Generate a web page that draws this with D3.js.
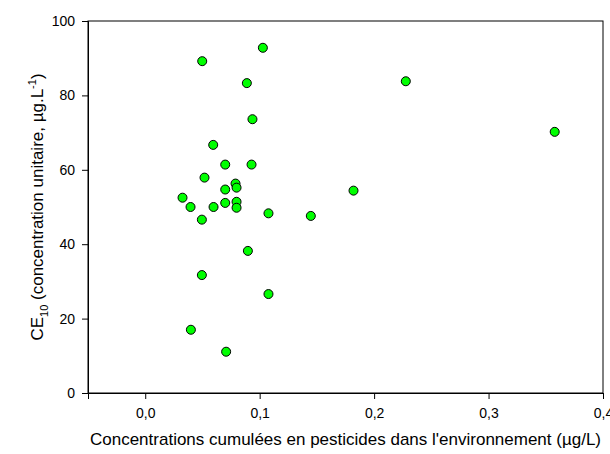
<!DOCTYPE html>
<html>
<head>
    <meta charset='utf-8'>
    <title>CE10 vs concentrations cumulées</title>
    <script src="https://cdn.jsdelivr.net/npm/d3@7"></script>
    <style>
        body { margin: 0; background: #fff; }
        svg text { font-family: "Liberation Sans", Arial, sans-serif; fill: #000; }
    </style>
</head>
<body>
    <svg id="chart" width="610" height="454"></svg>

    <script>
        // concentrations cumulées (µg/L)
        const xValues = [0.0498, 0.0888, 0.0937, 0.0594, 0.1028, 0.2277, 0.3578,
                         0.0699, 0.0929, 0.0518, 0.0789, 0.0798, 0.0699, 0.0326,
                         0.0396, 0.0597, 0.0699, 0.0798, 0.0798, 0.0495, 0.1077,
                         0.0897, 0.0495, 0.1077, 0.1447, 0.1820, 0.0399, 0.0707];
        // CE10 (µg.L-1)
        const yValues = [89.2, 83.3, 73.6, 66.7, 92.8, 83.8, 70.2,
                         61.4, 61.4, 57.9, 56.3, 55.2, 54.7, 52.5,
                         50.0, 50.0, 51.1, 51.4, 49.8, 46.6, 48.3,
                         38.2, 31.7, 26.6, 47.6, 54.4, 17.0, 11.1];
        const xTicks = [0, 0.1, 0.2, 0.3, 0.4];
        const yTicks = [0, 20, 40, 60, 80, 100];

        const points = xValues.map((x, i) => ({ x: x, y: yValues[i] }));

        const margin = { left: 88, top: 21, right: 7, bottom: 61 };
        const width = 610 - margin.left - margin.right;
        const height = 454 - margin.top - margin.bottom;

        const svg = d3.select('#chart');
        const g = svg.append('g')
            .attr('transform', `translate(${margin.left},${margin.top})`);

        const x = d3.scaleLinear().domain([-0.05, 0.4]).range([0, width]);
        const y = d3.scaleLinear().domain([0, 100]).range([height, 0]);

        const fmt = d => d3.format('.1f')(d).replace('.', ',');

        // frame
        g.append('rect')
            .attr('width', width)
            .attr('height', height)
            .attr('fill', 'none')
            .attr('stroke', '#000')
            .attr('stroke-width', 1);

        const xAxis = g.append('g')
            .attr('transform', `translate(0,${height})`)
            .call(d3.axisBottom(x).tickValues(xTicks).tickFormat(fmt).tickSize(6).tickPadding(9));

        const yAxis = g.append('g')
            .call(d3.axisLeft(y).tickValues(yTicks).tickSize(6).tickPadding(7));

        [xAxis, yAxis].forEach(a => {
            a.select('.domain').attr('stroke', '#000');
            a.selectAll('.tick line').attr('stroke', '#000');
            a.selectAll('.tick text')
                .style('font-family', '"Liberation Sans", Arial, sans-serif')
                .style('font-size', '14px');
        });

        g.selectAll('.dot')
            .data(points)
            .enter()
            .append('circle')
            .attr('class', 'dot')
            .attr('cx', d => x(d.x))
            .attr('cy', d => y(d.y))
            .attr('r', 4.5)
            .attr('fill', '#00ff00')
            .attr('stroke', '#000')
            .attr('stroke-width', 1);

        // axis titles
        svg.append('text')
            .attr('x', margin.left + width / 2)
            .attr('y', 445)
            .attr('text-anchor', 'middle')
            .style('font-size', '17px')
            .text("Concentrations cumulées en pesticides dans l'environnement (µg/L)");

        const yTitle = svg.append('text')
            .attr('transform', `translate(43,${margin.top + height / 2}) rotate(-90)`)
            .attr('text-anchor', 'middle')
            .style('font-size', '17px');
        yTitle.append('tspan').text('CE');
        yTitle.append('tspan').attr('dy', 5).style('font-size', '11px').text('10');
        yTitle.append('tspan').attr('dy', -5).text(' (concentration unitaire, µg.L');
        yTitle.append('tspan').attr('dy', -7).style('font-size', '11px').text('-1');
        yTitle.append('tspan').attr('dy', 7).text(')');
    </script>
</body>
</html>
